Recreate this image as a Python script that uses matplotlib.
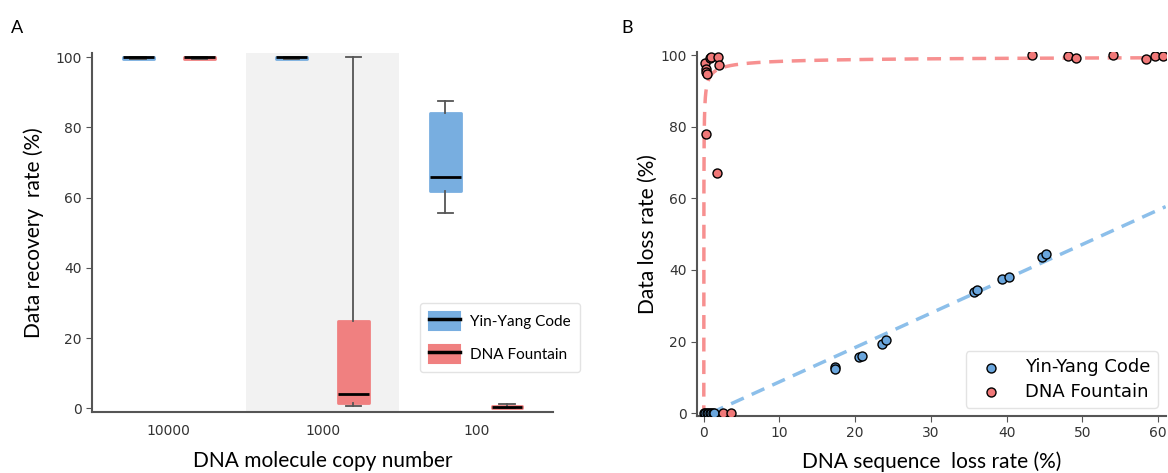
import numpy as np
import matplotlib
matplotlib.use("Agg")
import matplotlib.pyplot as plt
from matplotlib.patches import Patch
from matplotlib.lines import Line2D
from matplotlib.legend_handler import HandlerTuple

# ---- Panel A data: box statistics ----
copy_numbers = ["10000", "1000", "100"]
yy_med = [100.0, 100.0, 66.0]
yy_q1 = [99.6, 99.6, 62.0]
yy_q3 = [100.0, 100.0, 84.2]
yy_lo = [99.6, 99.6, 55.6]
yy_hi = [100.0, 100.0, 87.5]

df_med = [100.0, 4.0, 0.4]
df_q1 = [99.6, 1.6, 0.1]
df_q3 = [100.0, 25.0, 0.7]
df_lo = [99.6, 0.6, 0.0]
df_hi = [100.0, 100.0, 1.2]

# ---- Panel B data: scatter points ----
yy_x = [0.0, 0.2, 0.4, 0.6, 0.8, 1.0, 1.2, 1.4,
        17.3, 17.3, 20.5, 20.9, 23.5, 24.1, 35.7, 36.1, 39.4, 40.3, 44.7, 45.2]
yy_y = [0.0, 0.0, 0.0, 0.0, 0.0, 0.0, 0.0, 0.0,
        13.0, 12.4, 15.6, 16.1, 19.2, 20.3, 33.8, 34.3, 37.4, 38.1, 43.5, 44.4]
df_x = [0.2, 0.3, 0.35, 0.45, 0.8, 1.0, 1.9, 2.0, 0.3, 1.7, 2.6, 3.6,
        43.4, 48.1, 49.1, 54.0, 58.4, 59.6, 60.7]
df_y = [97.8, 96.3, 95.2, 94.8, 99.3, 99.6, 99.4, 97.3, 78.0, 67.2, 0.0, 0.0,
        100.0, 99.8, 99.3, 100.0, 98.9, 99.8, 99.9]

# fitted trend lines (coefficients)
yy_slope, yy_intercept = 0.96, -0.85
df_a, df_b, df_k = 100.0, 5.4, 0.5

BLUE = "#78aee0"
RED = "#f08080"
BLUE_LINE = "#8cbfea"
RED_LINE = "#f79090"
SPINE = "#555555"

fig = plt.figure(figsize=(11.68, 4.73), dpi=100)
axA = fig.add_axes([0.0788, 0.129, 0.3947, 0.759])
axB = fig.add_axes([0.5967, 0.1205, 0.4013, 0.7702])

# ---------------- Panel A ----------------
pos = np.arange(len(copy_numbers))
axA.axvspan(0.5, 1.5, color="#f2f2f2", zorder=0, lw=0)


def make_stats(med, q1, q3, lo, hi):
    return [dict(med=m, q1=a, q3=b, whislo=l, whishi=h, fliers=[])
            for m, a, b, l, h in zip(med, q1, q3, lo, hi)]


for stats, off, col in [(make_stats(yy_med, yy_q1, yy_q3, yy_lo, yy_hi), -0.2, BLUE),
                        (make_stats(df_med, df_q1, df_q3, df_lo, df_hi), 0.2, RED)]:
    axA.bxp(stats, positions=pos + off, widths=0.2, capwidths=0.1,
            patch_artist=True, showfliers=False,
            boxprops=dict(facecolor=col, edgecolor=col, linewidth=2, joinstyle="round"),
            medianprops=dict(color="black", linewidth=2),
            whiskerprops=dict(color=SPINE, linewidth=1.3),
            capprops=dict(color=SPINE, linewidth=1.3))

axA.set_xlim(-0.5, 2.5)
axA.set_ylim(-1, 101.2)
axA.set_xticks(pos)
axA.set_xticklabels(copy_numbers)
axA.set_yticks([0, 20, 40, 60, 80, 100])
axA.tick_params(axis="x", length=0, labelsize=10, pad=9, colors="#333333")
axA.tick_params(axis="y", length=4, labelsize=10, colors="#333333", color=SPINE)
for s in ["top", "right"]:
    axA.spines[s].set_visible(False)
for s in ["left", "bottom"]:
    axA.spines[s].set_color(SPINE)
    axA.spines[s].set_linewidth(1.5)
axA.set_ylabel("Data recovery  rate (%)", fontsize=15, family="Lato", labelpad=8)
axA.set_xlabel("DNA molecule copy number", fontsize=15, family="Lato", labelpad=9)

handles = [(Patch(facecolor=BLUE, edgecolor=BLUE, joinstyle="round", lw=1.5),
            Line2D([], [], color="black", lw=2.5)),
           (Patch(facecolor=RED, edgecolor=RED, joinstyle="round", lw=1.5),
            Line2D([], [], color="black", lw=2.5))]
legA = axA.legend(handles, ["Yin-Yang Code", "DNA Fountain"],
                  handler_map={tuple: HandlerTuple(ndivide=1, pad=0)},
                  loc="lower right", bbox_to_anchor=(1.059, 0.111),
                  borderaxespad=0,
                  prop=dict(family="Lato", size=11), handlelength=2.0,
                  handleheight=1.4, labelspacing=1.0, borderpad=0.6,
                  handletextpad=0.7, frameon=True, fancybox=True)
legA.get_frame().set_edgecolor("#dddddd")

# ---------------- Panel B ----------------
xb = np.linspace(0.9, 61, 200)
axB.plot(xb, yy_slope * xb + yy_intercept, ls=(0, (4, 2.5)), color=BLUE_LINE,
         lw=2.5, zorder=2)
xr = np.concatenate([np.linspace(0.0025, 0.5, 400), np.linspace(0.5, 61, 300)])
axB.plot(xr, df_a - df_b * xr ** (-df_k), ls=(0, (4, 2.5)), color=RED_LINE,
         lw=2.5, zorder=2)

axB.scatter(yy_x, yy_y, s=42, color="#6aa6dd", edgecolor="black", lw=1,
            zorder=3, label="Yin-Yang Code")
axB.scatter(df_x, df_y, s=42, color="#f07878", edgecolor="black", lw=1,
            zorder=3, label="DNA Fountain")

axB.set_xlim(-0.9, 61)
axB.set_ylim(-0.8, 101)
axB.set_xticks([0, 10, 20, 30, 40, 50, 60])
axB.set_yticks([0, 20, 40, 60, 80, 100])
axB.tick_params(labelsize=10, length=4, colors="#333333", color=SPINE)
for s in ["top", "right"]:
    axB.spines[s].set_visible(False)
for s in ["left", "bottom"]:
    axB.spines[s].set_color(SPINE)
    axB.spines[s].set_linewidth(1.5)
axB.set_ylabel("Data loss rate (%)", fontsize=15, family="Lato", labelpad=2)
axB.set_xlabel("DNA sequence  loss rate (%)", fontsize=15, family="Lato", labelpad=8)
legB = axB.legend(loc="lower right", bbox_to_anchor=(0.983, 0.022),
                  borderaxespad=0, fontsize=13, handletextpad=0.9,
                  borderpad=0.4, labelspacing=0.35, scatterpoints=1)
legB.get_frame().set_edgecolor("#dddddd")

fig.text(0.009, 0.93, "A", fontsize=13, family="Lato")
fig.text(0.532, 0.93, "B", fontsize=13, family="Lato")

fig.savefig("out.png", dpi=100)
